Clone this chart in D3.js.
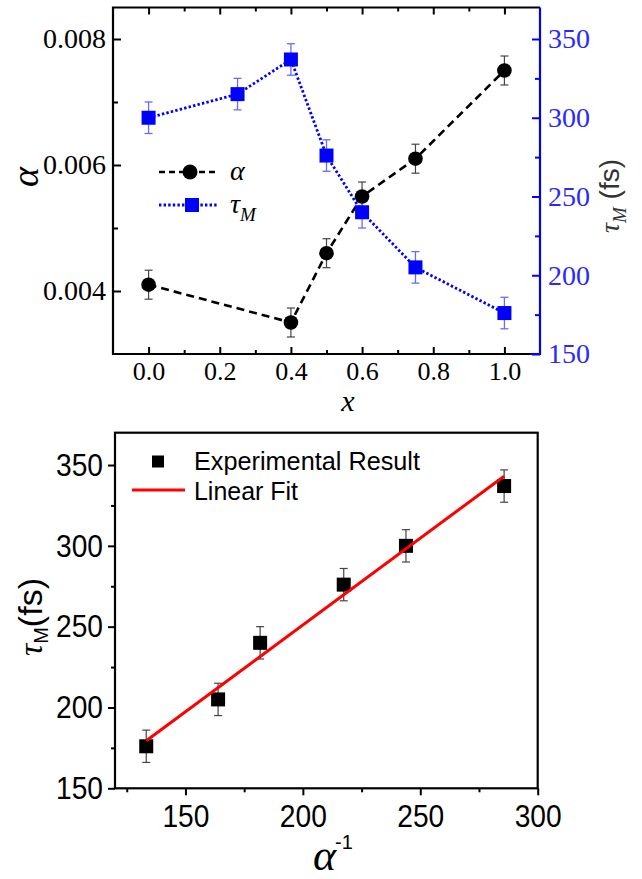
<!DOCTYPE html>
<html><head><meta charset="utf-8">
<script src="https://cdn.jsdelivr.net/npm/d3@7"></script>
<style>
html,body{margin:0;padding:0;background:#fff;}
svg{display:block;}
</style>
</head><body>
<svg id="chart" width="642" height="879"></svg>
<script>
// ---------- DATA ----------
const alphaX = [0, 0.4, 0.5, 0.6, 0.75, 1.0];
const alphaVals = [0.0041, 0.0035, 0.0046, 0.0055, 0.0061, 0.0075];
const alphaErr = [0.00023, 0.00023, 0.00023, 0.00023, 0.00023, 0.00023];
const tauX = [0, 0.25, 0.4, 0.5, 0.6, 0.75, 1.0];
const tauVals = [300, 315, 337, 276, 240, 205, 176];
const tauErr = [10, 10, 10, 10, 10, 10, 10];
const topXTicks = [0, 0.2, 0.4, 0.6, 0.8, 1.0];
const topXMinor = [0.1, 0.3, 0.5, 0.7, 0.9];
const alphaTicks = [0.004, 0.006, 0.008];
const alphaMinor = [0.005, 0.007];
const tauTicks = [150, 200, 250, 300, 350];
const tauMinor = [175, 225, 275, 325];

const invAlpha = [133.3, 163.9, 181.8, 217.4, 243.9, 285.7];
const tauExp = [176, 205, 240, 276, 300, 337];
const tauExpErr = [10, 10, 10, 10, 10, 10];
const fitX = [133.3, 285.7];
const fitY = [179.4, 343.1];
const botXTicks = [150, 200, 250, 300];
const botXMinor = [125, 175, 225, 275];
const botYTicks = [150, 200, 250, 300, 350];
const botYMinor = [175, 225, 275, 325];

// ---------- SETUP ----------
const svg = d3.select("#chart");
const SERIF = "'Liberation Serif','Times New Roman',serif";
const SANS = "'Liberation Sans',Arial,sans-serif";
const BLUE = "#0000ff";
const LBLUE = "#2a2aff";

// ---------- TOP PANEL ----------
const tL = 113, tR = 540, tT = 7.5, tB = 354;
const x1 = d3.scaleLinear().domain([-0.1, 1.1]).range([tL, tR]);
const yA = d3.scaleLinear().domain([0.003, 0.0085]).range([tB, tT]);
const yT = d3.scaleLinear().domain([150, 370]).range([tB, tT]);

const topG = svg.append("g");

function styleAxis(g, color, font, size) {
  g.attr("font-family", font).attr("font-size", size);
  g.select(".domain").remove();
  g.selectAll(".tick line").attr("stroke", color).attr("stroke-width", 2);
  g.selectAll(".tick text").attr("fill", color).style("font-family", font).style("font-size", size + "px");
}

topG.append("g").attr("transform", `translate(0,${tB})`)
  .call(d3.axisBottom(x1).tickValues(topXTicks).tickSize(-7).tickPadding(8).tickFormat(d3.format(".1f")))
  .call(g => styleAxis(g, "#000", SERIF, 26));
topG.append("g").attr("transform", `translate(0,${tB})`)
  .call(d3.axisBottom(x1).tickValues(topXMinor).tickSize(-4).tickFormat(""))
  .call(g => styleAxis(g, "#000", SERIF, 26));
topG.append("g").attr("transform", `translate(0,${tT})`)
  .call(d3.axisTop(x1).tickValues(topXTicks).tickSize(-7).tickFormat(""))
  .call(g => styleAxis(g, "#000", SERIF, 26));
topG.append("g").attr("transform", `translate(0,${tT})`)
  .call(d3.axisTop(x1).tickValues(topXMinor).tickSize(-4).tickFormat(""))
  .call(g => styleAxis(g, "#000", SERIF, 26));
topG.append("g").attr("transform", `translate(${tL},0)`)
  .call(d3.axisLeft(yA).tickValues(alphaTicks).tickSize(-8).tickPadding(7).tickFormat(d3.format(".3f")))
  .call(g => styleAxis(g, "#000", SERIF, 28));
topG.append("g").attr("transform", `translate(${tL},0)`)
  .call(d3.axisLeft(yA).tickValues(alphaMinor).tickSize(-5).tickFormat(""))
  .call(g => styleAxis(g, "#000", SERIF, 28));
topG.append("g").attr("transform", `translate(${tR},0)`)
  .call(d3.axisRight(yT).tickValues(tauTicks).tickSize(-8).tickPadding(8))
  .call(g => styleAxis(g, BLUE, SERIF, 28))
  .call(g => g.selectAll(".tick text").attr("fill", LBLUE));
topG.append("g").attr("transform", `translate(${tR},0)`)
  .call(d3.axisRight(yT).tickValues(tauMinor).tickSize(-5).tickFormat(""))
  .call(g => styleAxis(g, BLUE, SERIF, 28));

topG.append("path").attr("d", `M${tR},${tT}H${tL}V${tB}H${tR - 10}`)
  .attr("fill", "none").attr("stroke", "#000").attr("stroke-width", 2.2);
topG.append("path").attr("d", `M${tR - 10},${tB}H${tR}V${tT}`)
  .attr("fill", "none").attr("stroke", BLUE).attr("stroke-width", 2.2);

const alphaPts = alphaX.map((x, i) => [x, alphaVals[i]]);
const tauPts = tauX.map((x, i) => [x, tauVals[i]]);
topG.append("path").datum(alphaPts)
  .attr("d", d3.line().x(d => x1(d[0])).y(d => yA(d[1])))
  .attr("fill", "none").attr("stroke", "#000").attr("stroke-width", 2.6).attr("stroke-dasharray", "8,5");
topG.append("path").datum(tauPts)
  .attr("d", d3.line().x(d => x1(d[0])).y(d => yT(d[1])))
  .attr("fill", "none").attr("stroke", BLUE).attr("stroke-width", 2.8).attr("stroke-dasharray", "2.4,2.2");

function errBar(g, cx, y1, y2, color, w) {
  g.append("line").attr("x1", cx).attr("x2", cx).attr("y1", y1).attr("y2", y2).attr("stroke", color).attr("stroke-width", w);
  g.append("line").attr("x1", cx - 4).attr("x2", cx + 4).attr("y1", y1).attr("y2", y1).attr("stroke", color).attr("stroke-width", w);
  g.append("line").attr("x1", cx - 4).attr("x2", cx + 4).attr("y1", y2).attr("y2", y2).attr("stroke", color).attr("stroke-width", w);
}
const eb = topG.append("g");
alphaX.forEach((x, i) => errBar(eb, x1(x), yA(alphaVals[i] + alphaErr[i]), yA(alphaVals[i] - alphaErr[i]), "#444", 1.2));
tauX.forEach((x, i) => errBar(eb, x1(x), yT(tauVals[i] + tauErr[i]), yT(tauVals[i] - tauErr[i]), "#6a6aff", 1.3));

topG.append("g").selectAll("circle").data(alphaPts).join("circle")
  .attr("cx", d => x1(d[0])).attr("cy", d => yA(d[1])).attr("r", 7.3).attr("fill", "#000");
const S = 14;
topG.append("g").selectAll("rect").data(tauPts).join("rect")
  .attr("x", d => x1(d[0]) - S / 2).attr("y", d => yT(d[1]) - S / 2)
  .attr("width", S).attr("height", S).attr("fill", BLUE);

const lg = topG.append("g");
lg.append("line").attr("x1", 159).attr("x2", 217).attr("y1", 172).attr("y2", 172)
  .attr("stroke", "#000").attr("stroke-width", 2.6).attr("stroke-dasharray", "6,4");
lg.append("circle").attr("cx", 190).attr("cy", 172).attr("r", 7.5).attr("fill", "#000");
lg.append("text").attr("x", 230).attr("y", 180).style("font-family", SERIF).style("font-style", "italic")
  .style("font-size", "28px").text("α");
lg.append("line").attr("x1", 159).attr("x2", 218).attr("y1", 205).attr("y2", 205)
  .attr("stroke", BLUE).attr("stroke-width", 2.8).attr("stroke-dasharray", "2.4,2.2");
lg.append("rect").attr("x", 185).attr("y", 198).attr("width", 14).attr("height", 14).attr("fill", BLUE);
const lt = lg.append("text").attr("x", 230).attr("y", 213).style("font-family", SERIF).style("font-style", "italic").style("font-size", "28px");
lt.append("tspan").text("τ");
lt.append("tspan").attr("dy", 8).style("font-size", "19px").text("M");

topG.append("text").attr("transform", "translate(38,177) rotate(-90)").attr("text-anchor", "middle")
  .style("font-family", SERIF).style("font-style", "italic").style("font-size", "38px").text("α");
topG.append("text").attr("x", 348).attr("y", 411).attr("text-anchor", "middle")
  .style("font-family", SERIF).style("font-style", "italic").style("font-size", "30px").text("x");
const rt = topG.append("text").attr("transform", "translate(619,196) rotate(-90)").attr("text-anchor", "middle")
  .style("font-size", "28px").attr("fill", "#333");
rt.append("tspan").style("font-family", SERIF).style("font-style", "italic").text("τ");
rt.append("tspan").attr("dy", 7).style("font-family", SERIF).style("font-style", "italic").style("font-size", "19px").text("M");
rt.append("tspan").attr("dy", -7).style("font-family", SANS).text(" (fs)");

// ---------- BOTTOM PANEL ----------
const bL = 115, bR = 537.7, bT = 432.7, bB = 788.3;
const x2 = d3.scaleLinear().domain([120, 300]).range([bL, bR]);
const y2 = d3.scaleLinear().domain([150, 370]).range([bB, bT]);
const bot = svg.append("g");

bot.append("g").attr("transform", `translate(0,${bB})`)
  .call(d3.axisBottom(x2).tickValues(botXTicks).tickSize(7).tickPadding(9))
  .call(g => styleAxis(g, "#000", SANS, 32))
  .call(g => g.selectAll(".tick text").attr("textLength", 47).attr("lengthAdjust", "spacingAndGlyphs"));
bot.append("g").attr("transform", `translate(0,${bB})`)
  .call(d3.axisBottom(x2).tickValues(botXMinor).tickSize(4).tickFormat(""))
  .call(g => styleAxis(g, "#000", SANS, 32));
bot.append("g").attr("transform", `translate(${bL},0)`)
  .call(d3.axisLeft(y2).tickValues(botYTicks).tickSize(7).tickPadding(5))
  .call(g => styleAxis(g, "#000", SANS, 32))
  .call(g => g.selectAll(".tick text").attr("textLength", 47).attr("lengthAdjust", "spacingAndGlyphs"));
bot.append("g").attr("transform", `translate(${bL},0)`)
  .call(d3.axisLeft(y2).tickValues(botYMinor).tickSize(4).tickFormat(""))
  .call(g => styleAxis(g, "#000", SANS, 32));
bot.append("rect").attr("x", bL).attr("y", bT).attr("width", bR - bL).attr("height", bB - bT)
  .attr("fill", "none").attr("stroke", "#000").attr("stroke-width", 2.2);

const eb2 = bot.append("g");
invAlpha.forEach((x, i) => errBar(eb2, x2(x), y2(tauExp[i] + tauExpErr[i]), y2(tauExp[i] - tauExpErr[i]), "#444", 1.2));
bot.append("g").selectAll("rect").data(invAlpha.map((x, i) => [x, tauExp[i]])).join("rect")
  .attr("x", d => x2(d[0]) - S / 2).attr("y", d => y2(d[1]) - S / 2)
  .attr("width", S).attr("height", S).attr("fill", "#000");
bot.append("path").datum(fitX.map((x, i) => [x, fitY[i]]))
  .attr("d", d3.line().x(d => x2(d[0])).y(d => y2(d[1])))
  .attr("stroke", "#ff0000").attr("stroke-width", 3).attr("fill", "none");

bot.append("rect").attr("x", 152).attr("y", 455.5).attr("width", 12).attr("height", 12).attr("fill", "#000");
bot.append("text").attr("x", 194).attr("y", 470).style("font-family", SANS).style("font-size", "25px")
  .attr("textLength", 226).attr("lengthAdjust", "spacingAndGlyphs").text("Experimental Result");
bot.append("line").attr("x1", 132).attr("x2", 185).attr("y1", 490).attr("y2", 490).attr("stroke", "#ff0000").attr("stroke-width", 3);
bot.append("text").attr("x", 194).attr("y", 500).style("font-family", SANS).style("font-size", "25px")
  .attr("textLength", 104).attr("lengthAdjust", "spacingAndGlyphs").text("Linear Fit");

const bt = bot.append("text").attr("transform", "translate(42,617) rotate(-90)").attr("text-anchor", "middle")
  .style("font-size", "34px").attr("fill", "#000");
bt.append("tspan").style("font-family", SERIF).style("font-style", "italic").text("τ");
bt.append("tspan").attr("dy", 6).style("font-family", SANS).style("font-size", "20px").text("M");
bt.append("tspan").attr("dy", -6).style("font-family", SANS).text("(fs)");

const xt = bot.append("text").attr("x", 313).attr("y", 870);
xt.append("tspan").style("font-family", SERIF).style("font-style", "italic").style("font-size", "44px").text("α");
xt.append("tspan").attr("dx", -1).attr("dy", -21).style("font-family", SANS).style("font-size", "20px").text("-1");
</script>
</body></html>
